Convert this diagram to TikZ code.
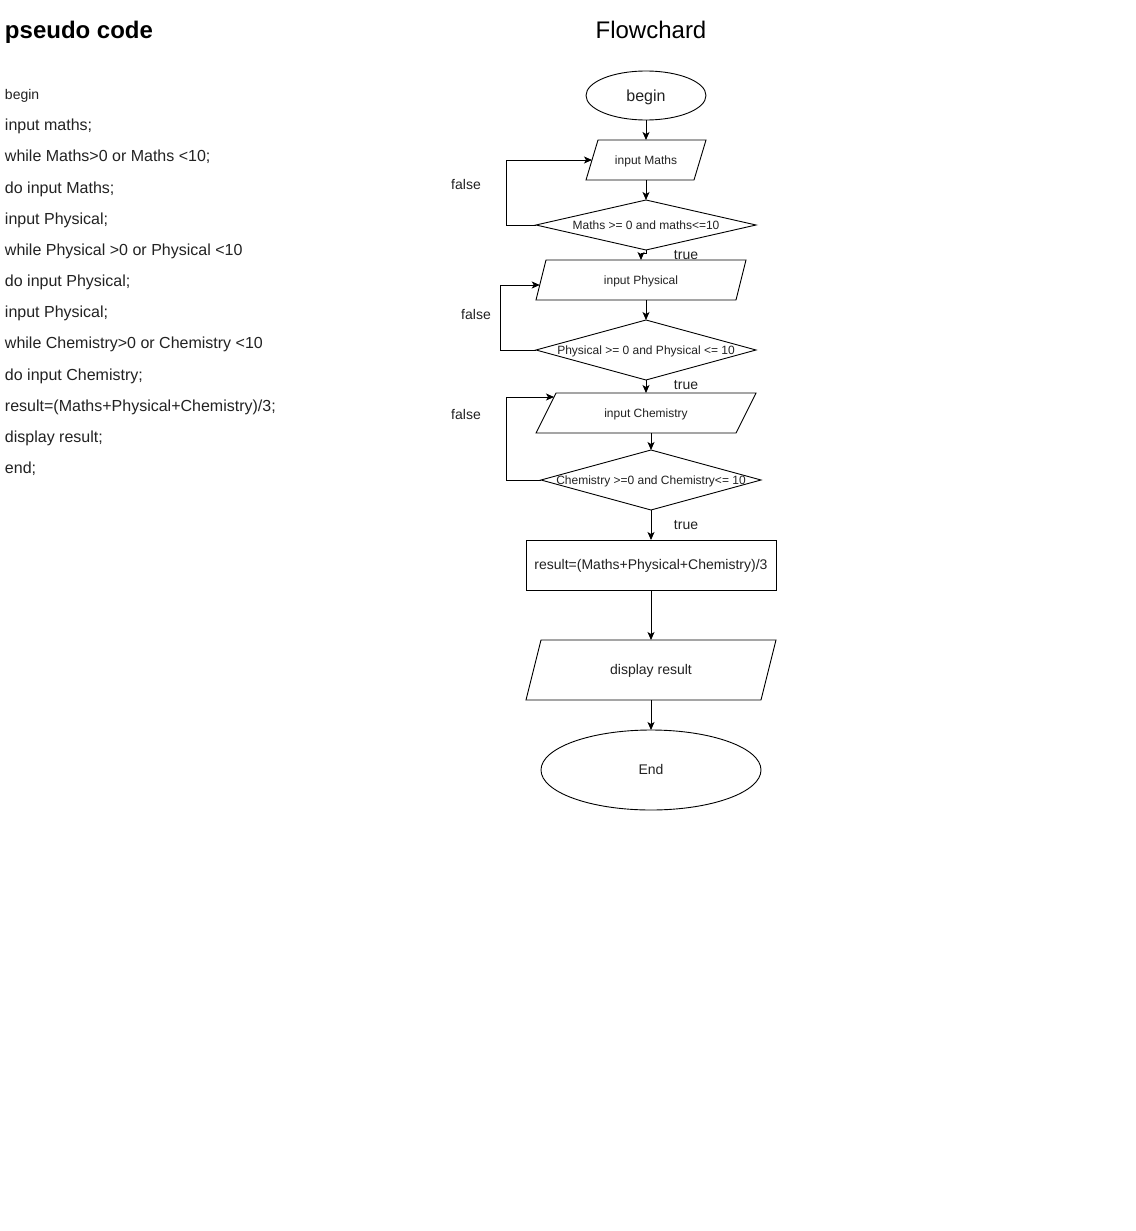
\documentclass[tikz,border=0pt]{standalone}
\usepackage{fontspec}
\setmainfont{Liberation Sans}
\usetikzlibrary{shapes.geometric,arrows.meta}
\definecolor{txt}{HTML}{222222}
\begin{document}
\begin{tikzpicture}[x=1pt,y=-1pt,
  every node/.style={inner sep=0pt,outer sep=0pt,text=txt},
  line/.style={draw=black,line width=0.9pt},
  arr/.style={line,-{Stealth[length=8pt,width=7pt,inset=2pt]}},
  oval/.style={ellipse,draw=black,line width=0.9pt},
  dia/.style={diamond,draw=black,line width=0.9pt},
  box/.style={rectangle,draw=black,line width=0.9pt},
  txtbox/.style={rectangle},
  f24/.style={font=\fontsize{24}{28}\selectfont,text height=21.7pt,text depth=5pt},
  f16/.style={font=\fontsize{16}{19}\selectfont,text height=14.5pt,text depth=3.4pt},
  f14/.style={font=\fontsize{14}{17}\selectfont,text height=12.7pt,text depth=3pt},
  f12/.style={font=\fontsize{12}{14}\selectfont,text height=10.9pt,text depth=2.5pt},
  code/.style={anchor=west,f16},
  lbl/.style={f14},
  small/.style={f12},
  mid/.style={f14}]
\useasboundingbox[fill=white] (0,0) rectangle (1135,1231);

% headings
\node[anchor=west,f24,font=\bfseries\fontsize{24}{28}\selectfont,text=black] (h1) at (5,30) {pseudo code};
\node[f24,text=black] (h2) at (651,30) {Flowchard};

% pseudo code
\node[code,f14] (c0) at (5,95) {begin};
\node[code] (c1) at (5,125) {input maths;};
\node[code] (c2) at (5,156) {while Maths>0 or Maths <10;};
\node[code] (c3) at (5,188) {do input Maths;};
\node[code] (c4) at (5,219) {input Physical;};
\node[code] (c5) at (5,250) {while Physical >0 or Physical <10};
\node[code] (c6) at (5,281) {do input Physical;};
\node[code] (c7) at (5,312) {input Physical;};
\node[code] (c8) at (5,343) {while Chemistry>0 or Chemistry <10};
\node[code] (c9) at (5,375) {do input Chemistry;};
\node[code] (c10) at (5,406) {result=(Maths+Physical+Chemistry)/3;};
\node[code] (c11) at (5,437) {display result;};
\node[code] (c12) at (5,468) {end;};

% flowchart shapes
\node[oval,minimum width=120pt,minimum height=49pt] (begin) at (646,95.5) {};
\node[f16] (begint) at (begin.center) {begin};

\draw[line] (598,140) -- (706,140) -- (694,180) -- (586,180) -- cycle;
\node[txtbox,minimum width=120pt,minimum height=40pt] (inM) at (646,160) {};
\node[small] (inMt) at (inM.center) {input Maths};

\node[dia,minimum width=220pt,minimum height=50pt] (d1) at (646,225) {};
\node[small] (d1t) at (d1.center) {Maths >= 0 and maths<=10};

\draw[line] (546,260) -- (746,260) -- (736,300) -- (536,300) -- cycle;
\node[txtbox,minimum width=210pt,minimum height=40pt] (inP) at (641,280) {};
\node[small] (inPt) at (inP.center) {input Physical};

\node[dia,minimum width=220pt,minimum height=60pt] (d2) at (646,350) {};
\node[small] (d2t) at (d2.center) {Physical >= 0 and Physical <= 10};

\draw[line] (556,393) -- (756,393) -- (736,433) -- (536,433) -- cycle;
\node[txtbox,minimum width=220pt,minimum height=40pt] (inC) at (646,413) {};
\node[small] (inCt) at (inC.center) {input Chemistry};

\node[dia,minimum width=220pt,minimum height=60pt] (d3) at (651,480) {};
\node[small] (d3t) at (d3.center) {Chemistry >=0 and Chemistry<= 10};

\node[box,minimum width=250pt,minimum height=50pt] (res) at (651,565) {};
\node[mid] (rest) at (res.center) {result=(Maths+Physical+Chemistry)/3};

\draw[line] (541,640) -- (776,640) -- (761,700) -- (526,700) -- cycle;
\node[txtbox,minimum width=250pt,minimum height=60pt] (disp) at (651,670) {};
\node[mid] (dispt) at (disp.center) {display result};

\node[oval,minimum width=220pt,minimum height=80pt] (end) at (651,770) {};
\node[mid] (endt) at (end.center) {End};

% entry points on slanted edges
\coordinate (eM) at (592,160);
\coordinate (eP) at (539.75,285);
\coordinate (eC) at (554,397);

% connectors
\draw[arr] (begin.south) -- (inM.north);
\draw[arr] (inM.south) -- (d1.north);
\draw[arr] (d1.west) -- (506,225) |- (eM);
\draw[arr] (d1.south) -- ++(0,3.5) -| (inP.north);
\draw[arr] (inP.south -| d2.north) -- (d2.north);
\draw[arr] (d2.west) -- (500,350) |- (eP);
\draw[arr] (d2.south) -- (inC.north);
\draw[arr] (inC.south -| d3.north) -- (d3.north);
\draw[arr] (d3.west) -- (506,480) |- (eC);
\draw[arr] (d3.south) -- (res.north);
\draw[arr] (res.south) -- (disp.north);
\draw[arr] (disp.south) -- (end.north);

% labels
\node[lbl] (f1) at (466,185) {false};
\node[lbl] (f2) at (476,315) {false};
\node[lbl] (f3) at (466,415) {false};
\node[lbl] (t1) at (686,255) {true};
\node[lbl] (t2) at (686,385) {true};
\node[lbl] (t3) at (686,525) {true};
\end{tikzpicture}
\end{document}
